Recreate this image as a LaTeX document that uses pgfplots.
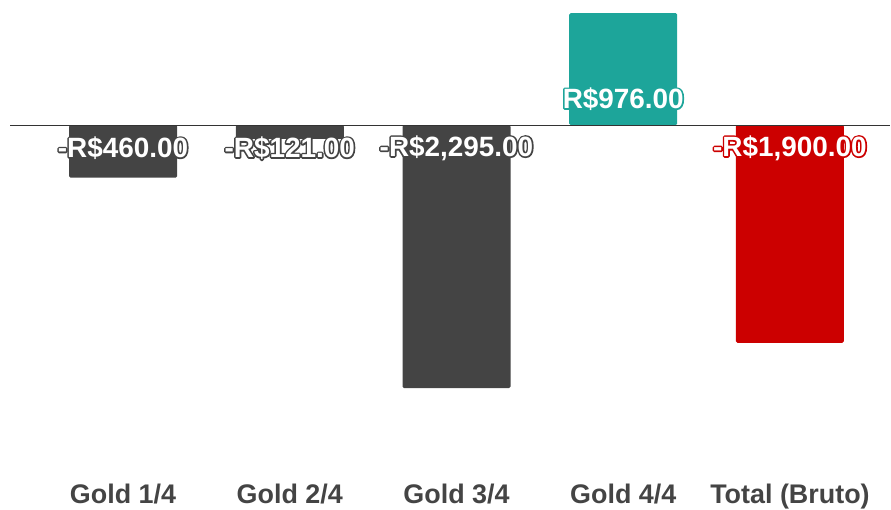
\documentclass[border=0pt]{standalone}
\usepackage{pgfplots}
\pgfplotsset{compat=1.18}
\usepackage{fontspec}
\setmainfont{Liberation Sans}
\definecolor{bargray}{HTML}{444444}
\definecolor{barteal}{HTML}{1DA59A}
\definecolor{barred}{HTML}{CC0000}
\definecolor{ticktext}{HTML}{444444}
% outlined text: coloured stroke behind white fill
\newcommand\outl[2]{\rlap{\special{pdf:code q 1 Tr 3.2 w 1 j 1 J #1 RG}#2\special{pdf:code 0 Tr Q}}\textcolor{white}{#2}}
\begin{document}
\begin{tikzpicture}
\path[use as bounding box] (0,0) rectangle (891bp,510bp);
\begin{axis}[
  at={(10bp,35bp)}, anchor=south west,
  scale only axis, width=880bp, height=475bp,
  xmin=-0.678, xmax=4.6, ymin=-3054, ymax=1091,
  axis lines=none, clip=false,
  ybar, bar width=108bp, bar shift=0pt,
  xtick={0,1,2,3,4},
  xticklabels={Gold 1/4, Gold 2/4, Gold 3/4, Gold 4/4, Total (Bruto)},
  ytick=\empty,
]
% bars
\addplot[fill=bargray, draw=none, rounded corners=1.5bp] coordinates {(0,-460) (1,-121) (2,-2295)};
\addplot[fill=barteal, draw=none, rounded corners=1.5bp] coordinates {(3,976)};
\addplot[fill=barred, draw=none, rounded corners=1.5bp] coordinates {(4,-1900)};
% zero line
\draw[color=black!80, line width=1bp] (axis cs:-0.678,0) -- (axis cs:4.6,0);
% labels
\addplot[draw=none, mark=none, point meta=explicit symbolic,
  nodes near coords={\outl{0.267 0.267 0.267}{\pgfplotspointmeta}},
  nodes near coords style={anchor=center, yshift=-23bp, font=\fontsize{28}{30}\selectfont\bfseries}]
  coordinates {(0,0) [{-R\$460.00}] (1,0) [{-R\$121.00}] (2,0) [{-R\$2,295.00}]};
\addplot[draw=none, mark=none, point meta=explicit symbolic,
  nodes near coords={\outl{0.114 0.647 0.604}{\pgfplotspointmeta}},
  nodes near coords style={anchor=center, yshift=26bp, font=\fontsize{28}{30}\selectfont\bfseries}]
  coordinates {(3,0) [{R\$976.00}]};
\addplot[draw=none, mark=none, point meta=explicit symbolic,
  nodes near coords={\outl{0.8 0 0}{\pgfplotspointmeta}},
  nodes near coords style={anchor=center, yshift=-23bp, font=\fontsize{28}{30}\selectfont\bfseries}]
  coordinates {(4,0) [{-R\$1,900.00}]};
\end{axis}
\begin{axis}[
  at={(10bp,35bp)}, anchor=south west,
  scale only axis, width=880bp, height=475bp,
  xmin=-0.678, xmax=4.6, ymin=-3054, ymax=1091,
  axis line style={draw=none}, tick style={draw=none},
  xtick={0,1,2,3,4},
  xticklabels={Gold 1/4, Gold 2/4, Gold 3/4, Gold 4/4, Total (Bruto)},
  xticklabel style={anchor=base, yshift=-28bp, text=ticktext, font=\fontsize{27}{29}\selectfont\bfseries},
  ytick=\empty,
]
\addplot[draw=none, mark=none] coordinates {(0,0)};
\end{axis}
\end{tikzpicture}
\end{document}
